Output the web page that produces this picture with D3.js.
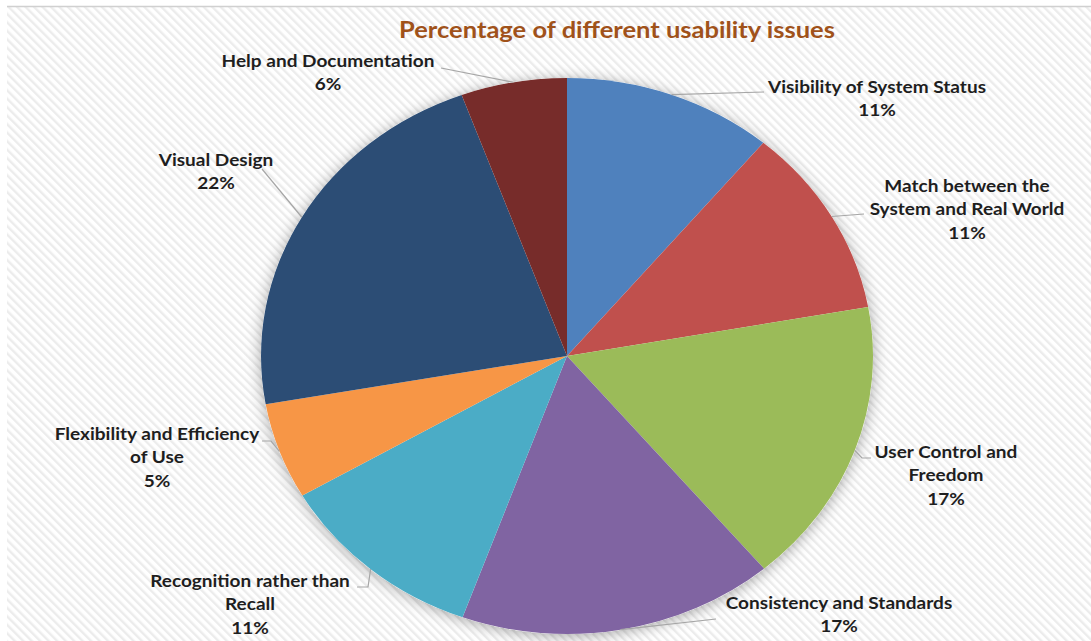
<!DOCTYPE html>
<html>
<head>
<meta charset="utf-8">
<script src="https://cdn.jsdelivr.net/npm/d3@7"></script>
<style>
  html, body { margin: 0; padding: 0; background: #ffffff; }
  svg { display: block; }
  text { font-family: Lato, "Open Sans", "Liberation Sans", sans-serif; }
</style>
</head>
<body>
<svg id="chart" width="1091" height="641"></svg>
<script>
// ---- data ----
const categories = [
  "Visibility of System Status",
  "Match between the System and Real World",
  "User Control and Freedom",
  "Consistency and Standards",
  "Recognition rather than Recall",
  "Flexibility and Efficiency of Use",
  "Visual Design",
  "Help and Documentation"
];
const values = [11.1, 11.1, 16.7, 16.7, 11.1, 5.6, 22.2, 5.6];
const percentLabels = ["11%", "11%", "17%", "17%", "11%", "5%", "22%", "6%"];
const labelLines = [
  ["Visibility of System Status"],
  ["Match between the", "System and Real World"],
  ["User Control and", "Freedom"],
  ["Consistency and Standards"],
  ["Recognition rather than", "Recall"],
  ["Flexibility and Efficiency", "of Use"],
  ["Visual Design"],
  ["Help and Documentation"]
];
const colors = ["#4f81bd", "#c0504d", "#9bbb59", "#8064a2", "#4bacc6", "#f79646", "#2c4d75", "#772c2a"];
const title = "Percentage of different usability issues";

// ---- layout (label placement) ----
const labelPos = [ // text centre x, first baseline y, leader elbow, leader end
  {x: 877, y: 93,  elbow: null,       end: [764, 92]},
  {x: 967, y: 192, elbow: null,       end: [864, 214]},
  {x: 946, y: 458, elbow: [862, 458], end: [871, 458]},
  {x: 839, y: 609, elbow: null,       end: [716, 619]},
  {x: 250, y: 587, elbow: [368, 587], end: [357, 587]},
  {x: 157, y: 440, elbow: [271, 441], end: [262, 441]},
  {x: 216, y: 166, elbow: null,       end: [262, 169]},
  {x: 328, y: 67,  elbow: null,       end: [441, 68]}
];
const lineH = 23.5;
const stretchX = 1.12;

const svg = d3.select("#chart");
const W = 1091, H = 641;

// background with diagonal stripes
const defs = svg.append("defs");
const pat = defs.append("pattern")
  .attr("id", "stripes").attr("patternUnits", "userSpaceOnUse")
  .attr("width", 6).attr("height", 6)
  .attr("patternTransform", "rotate(-45)");
pat.append("rect").attr("width", 6).attr("height", 6).attr("fill", "#ffffff");
pat.append("rect").attr("x", 0).attr("width", 2.4).attr("height", 6).attr("fill", "#ececec");

const shadow = defs.append("filter").attr("id", "pieShadow")
  .attr("x", "-20%").attr("y", "-20%").attr("width", "140%").attr("height", "140%");
shadow.append("feDropShadow").attr("dx", 0).attr("dy", 2)
  .attr("stdDeviation", 7).attr("flood-color", "#000").attr("flood-opacity", 0.35);

svg.append("rect").attr("width", W).attr("height", H).attr("fill", "#ffffff");
svg.append("rect").attr("x", 7).attr("y", 6).attr("width", W - 7).attr("height", H - 6)
  .attr("fill", "url(#stripes)");
svg.append("line").attr("x1", 7).attr("x2", W).attr("y1", 6.5).attr("y2", 6.5)
  .attr("stroke", "#d0d0d0").attr("stroke-width", 1.5);

// title
svg.append("text")
  .attr("transform", `translate(617,38) scale(${stretchX},1)`)
  .attr("text-anchor", "middle")
  .attr("font-size", 22.8).attr("font-weight", "bold")
  .attr("fill", "#a0521a")
  .text(title);

// pie
const cx = 567, cy = 356, rx = 306, ry = 278;
const pie = d3.pie().sort(null).value(d => d)(values);
const arc = d3.arc().innerRadius(0).outerRadius(ry);

const pg = svg.append("g")
  .attr("transform", `translate(${cx},${cy}) scale(${rx / ry},1)`);
pg.append("circle").attr("r", ry).attr("fill", "#ffffff").attr("filter", "url(#pieShadow)");
pg.selectAll("path.slice").data(pie).join("path")
  .attr("class", "slice")
  .attr("d", arc)
  .attr("fill", (d, i) => colors[i]);

// leader lines
function edgePoint(a) {
  return [cx + rx * Math.sin(a), cy - ry * Math.cos(a)];
}
const leader = svg.append("g");
pie.forEach((d, i) => {
  const mid = (d.startAngle + d.endAngle) / 2;
  const p0 = edgePoint(mid);
  const L = labelPos[i];
  const pts = [p0];
  if (L.elbow) pts.push(L.elbow);
  pts.push(L.end);
  leader.append("path")
    .attr("d", d3.line()(pts))
    .attr("fill", "none")
    .attr("stroke", "#a6a6a6")
    .attr("stroke-width", 1.2);
});

// labels
const lg = svg.append("g");
labelLines.forEach((lines, i) => {
  const L = labelPos[i];
  const t = lg.append("text")
    .attr("transform", `translate(${L.x},0) scale(${stretchX},1)`)
    .attr("text-anchor", "middle")
    .attr("font-size", 17).attr("font-weight", "bold")
    .attr("fill", "#1e1e1e");
  const all = lines.concat([percentLabels[i]]);
  all.forEach((s, k) => {
    t.append("tspan").attr("x", 0).attr("y", L.y + k * lineH).text(s);
  });
});
</script>
</body>
</html>
